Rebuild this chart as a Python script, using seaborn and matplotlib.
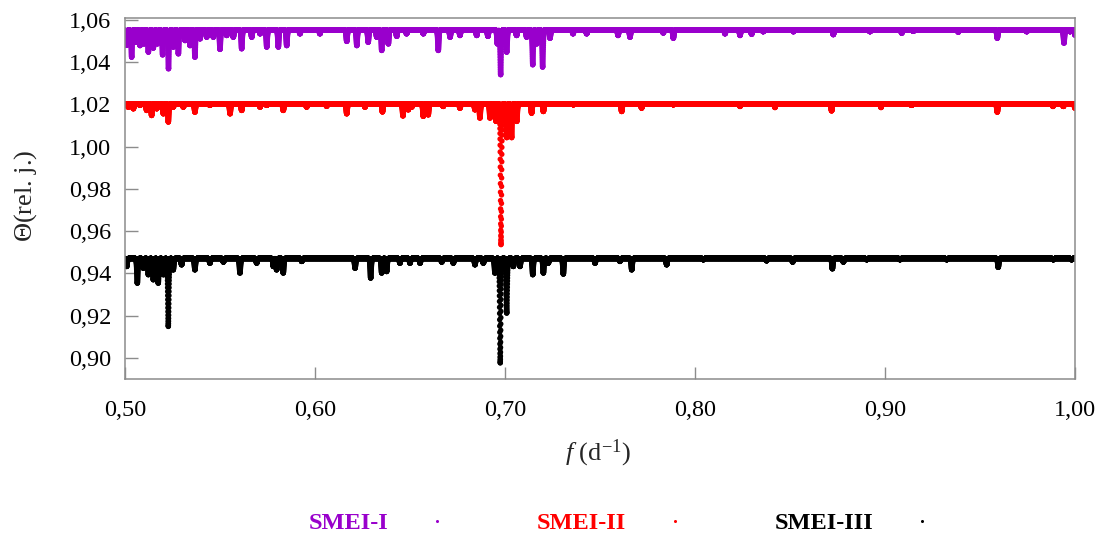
import numpy as np
import pandas as pd
import matplotlib
matplotlib.use("Agg")
import matplotlib.pyplot as plt
from matplotlib.lines import Line2D
from matplotlib.ticker import FixedLocator, FuncFormatter
import seaborn as sns

# ---------------------------------------------------------------- data
freq_start, freq_stop, freq_step = 0.50, 1.00, 0.00003

series_names = ["SMEI-I", "SMEI-II", "SMEI-III"]
series_colors = ["#9900CC", "#FF0000", "#000000"]
baselines = [1.0553, 1.0203, 0.9471]
dip_sigma = 0.0003

# Theta minima (frequency in 1/d, minimum Theta value) for each data set
smei1_dip_freq = [0.5009, 0.5035, 0.5058, 0.5079, 0.5100, 0.5123, 0.5149, 0.5170,
                  0.5198, 0.5229, 0.5254, 0.5281, 0.5316, 0.5342, 0.5368, 0.5395,
                  0.5430, 0.5465, 0.5500, 0.5535, 0.5570, 0.5614, 0.5667, 0.5711,
                  0.5746, 0.5807, 0.5851, 0.5921, 0.6026, 0.6167, 0.6220, 0.6280,
                  0.6325, 0.6351, 0.6386, 0.6430, 0.6482, 0.6570, 0.6649, 0.6711,
                  0.6763, 0.6851, 0.6910, 0.6960, 0.6977, 0.7009, 0.7061, 0.7114,
                  0.7146, 0.7167, 0.7198, 0.7237, 0.7358, 0.7430, 0.7595, 0.7658,
                  0.7833, 0.7886, 0.8158, 0.8237, 0.8298, 0.8359, 0.8518, 0.8728,
                  0.8921, 0.9088, 0.9149, 0.9386, 0.9591, 0.9746, 0.9942, 0.9974,
                  1.0000]
smei1_dip_min = [1.0480, 1.0424, 1.0495, 1.0479, 1.0487, 1.0448, 1.0467, 1.0487,
                 1.0435, 1.0369, 1.0472, 1.0440, 1.0503, 1.0479, 1.0424, 1.0511,
                 1.0519, 1.0519, 1.0461, 1.0527, 1.0519, 1.0464, 1.0519, 1.0535,
                 1.0472, 1.0472, 1.0479, 1.0535, 1.0535, 1.0499, 1.0479, 1.0495,
                 1.0519, 1.0456, 1.0487, 1.0523, 1.0535, 1.0535, 1.0456, 1.0519,
                 1.0527, 1.0527, 1.0523, 1.0487, 1.0341, 1.0448, 1.0527, 1.0519,
                 1.0388, 1.0487, 1.0377, 1.0514, 1.0535, 1.0535, 1.0527, 1.0519,
                 1.0539, 1.0514, 1.0535, 1.0527, 1.0533, 1.0545, 1.0545, 1.0531,
                 1.0545, 1.0538, 1.0547, 1.0543, 1.0514, 1.0545, 1.0491, 1.0545,
                 1.0529]

smei2_dip_freq = [0.5017, 0.5044, 0.5079, 0.5114, 0.5140, 0.5167, 0.5202, 0.5228,
                  0.5254, 0.5307, 0.5368, 0.5447, 0.5553, 0.5614, 0.5711, 0.5746,
                  0.5833, 0.5956, 0.6061, 0.6167, 0.6263, 0.6355, 0.6463, 0.6491,
                  0.6509, 0.6570, 0.6596, 0.6675, 0.6763, 0.6842, 0.6868, 0.6921,
                  0.6953, 0.6979, 0.7009, 0.7035, 0.7062, 0.7140, 0.7202, 0.7360,
                  0.7614, 0.7719, 0.7886, 0.8237, 0.8421, 0.8719, 0.8979, 0.9140,
                  0.9591, 0.9884, 0.9939, 1.0000]
smei2_dip_min = [1.0188, 1.0180, 1.0196, 1.0172, 1.0148, 1.0180, 1.0156, 1.0117,
                 1.0188, 1.0188, 1.0164, 1.0196, 1.0156, 1.0172, 1.0188, 1.0196,
                 1.0172, 1.0188, 1.0192, 1.0156, 1.0188, 1.0165, 1.0146, 1.0175,
                 1.0188, 1.0144, 1.0151, 1.0191, 1.0183, 1.0175, 1.0136, 1.0136,
                 1.0120, 0.9536, 1.0043, 1.0043, 1.0120, 1.0159, 1.0167, 1.0199,
                 1.0167, 1.0183, 1.0199, 1.0191, 1.0186, 1.0170, 1.0186, 1.0196,
                 1.0164, 1.0191, 1.0191, 1.0183]

smei3_dip_freq = [0.5009, 0.5065, 0.5096, 0.5123, 0.5149, 0.5175, 0.5202, 0.5228,
                  0.5254, 0.5298, 0.5368, 0.5447, 0.5518, 0.5605, 0.5693, 0.5781,
                  0.5798, 0.5833, 0.5930, 0.6211, 0.6293, 0.6351, 0.6377, 0.6447,
                  0.6500, 0.6553, 0.6667, 0.6728, 0.6842, 0.6886, 0.6947, 0.6975,
                  0.7009, 0.7044, 0.7079, 0.7146, 0.7202, 0.7228, 0.7307, 0.7474,
                  0.7605, 0.7667, 0.7851, 0.8044, 0.8377, 0.8514, 0.8723, 0.8781,
                  0.8904, 0.9079, 0.9325, 0.9596, 0.9886, 0.9982]
smei3_dip_min = [0.9433, 0.9354, 0.9425, 0.9394, 0.9370, 0.9354, 0.9394, 0.9149,
                 0.9417, 0.9441, 0.9417, 0.9449, 0.9454, 0.9402, 0.9449, 0.9433,
                 0.9417, 0.9402, 0.9457, 0.9425, 0.9378, 0.9402, 0.9409, 0.9449,
                 0.9449, 0.9449, 0.9454, 0.9449, 0.9441, 0.9449, 0.9402, 0.8976,
                 0.9212, 0.9433, 0.9433, 0.9394, 0.9402, 0.9449, 0.9397, 0.9449,
                 0.9457, 0.9417, 0.9441, 0.9465, 0.9460, 0.9454, 0.9422, 0.9454,
                 0.9465, 0.9465, 0.9465, 0.9429, 0.9465, 0.9465]

dip_freqs = [smei1_dip_freq, smei2_dip_freq, smei3_dip_freq]
dip_mins = [smei1_dip_min, smei2_dip_min, smei3_dip_min]

x_ticks = [0.50, 0.60, 0.70, 0.80, 0.90, 1.00]
y_ticks = [0.90, 0.92, 0.94, 0.96, 0.98, 1.00, 1.02, 1.04, 1.06]

# ---------------------------------------------------------------- build periodograms
freq = np.arange(freq_start, freq_stop + freq_step / 2, freq_step)
frames = []
for name, base, fk, mk in zip(series_names, baselines, dip_freqs, dip_mins):
    fk = np.asarray(fk)[:, None]
    depth = (base - np.asarray(mk))[:, None]
    profile = depth * np.exp(-0.5 * ((freq[None, :] - fk) / dip_sigma) ** 2)
    theta = base - profile.max(axis=0)
    frames.append(pd.DataFrame({"f": freq, "theta": theta, "series": name}))
df = pd.concat(frames, ignore_index=True)

# ---------------------------------------------------------------- style
sns.set_style("ticks")
plt.rcParams["font.family"] = ["Liberation Serif", "DejaVu Serif"]
plt.rcParams["mathtext.fontset"] = "custom"
plt.rcParams["mathtext.rm"] = "Liberation Serif"
plt.rcParams["mathtext.it"] = "Liberation Serif:italic"
plt.rcParams["axes.unicode_minus"] = False

W, H = 1108, 541
fig = plt.figure(figsize=(W / 100, H / 100), dpi=100)
ax = fig.add_axes([125 / W, 1 - 379 / H, 950 / W, 361.5 / H])

sns.scatterplot(data=df, x="f", y="theta", hue="series",
                palette=dict(zip(series_names, series_colors)),
                s=15, linewidth=0, legend=False, ax=ax)

ax.set_xlim(0.50, 1.00)
ax.set_ylim(0.89, 1.0612)
ax.xaxis.set_major_locator(FixedLocator(x_ticks))
ax.yaxis.set_major_locator(FixedLocator(y_ticks))
comma = FuncFormatter(lambda v, p: f"{v:.2f}".replace(".", ","))
ax.xaxis.set_major_formatter(comma)
ax.yaxis.set_major_formatter(comma)
ax.set_xlabel("")
ax.set_ylabel("")

spine_color = "#8c8c8c"
for sp in ax.spines.values():
    sp.set_visible(True)
    sp.set_color(spine_color)
    sp.set_linewidth(1.1)
ax.tick_params(axis="both", direction="in", length=9, width=1.0,
               color=spine_color, labelsize=17.5, labelcolor="black")
ax.tick_params(axis="y", pad=10)
ax.tick_params(axis="x", pad=15)

fig.text(598 / W, 1 - 453 / H, r"$\mathit{f}$ (d$^{\mathrm{-1}}$)",
         ha="center", va="center", fontsize=19)
fig.text(26 / W, 1 - 196 / H, r"$\mathit{\Theta}$(rel. j.)",
         ha="center", va="center", fontsize=19, rotation=90)

handles = [Line2D([], [], marker="o", linestyle="", color=c, markersize=2.2,
                  markeredgewidth=0) for c in series_colors]
leg = ax.legend(handles, series_names, ncol=3, frameon=False, markerfirst=False,
                loc="center", bbox_to_anchor=(627.5 / W, 1 - 523 / H),
                bbox_transform=fig.transFigure,
                prop={"family": "Liberation Serif", "weight": "bold", "size": 17.5},
                handlelength=2.0, handletextpad=1.0, columnspacing=3.1,
                borderpad=0.0)
for txt, c in zip(leg.get_texts(), series_colors):
    txt.set_color(c)

fig.savefig("out.png", dpi=100)
